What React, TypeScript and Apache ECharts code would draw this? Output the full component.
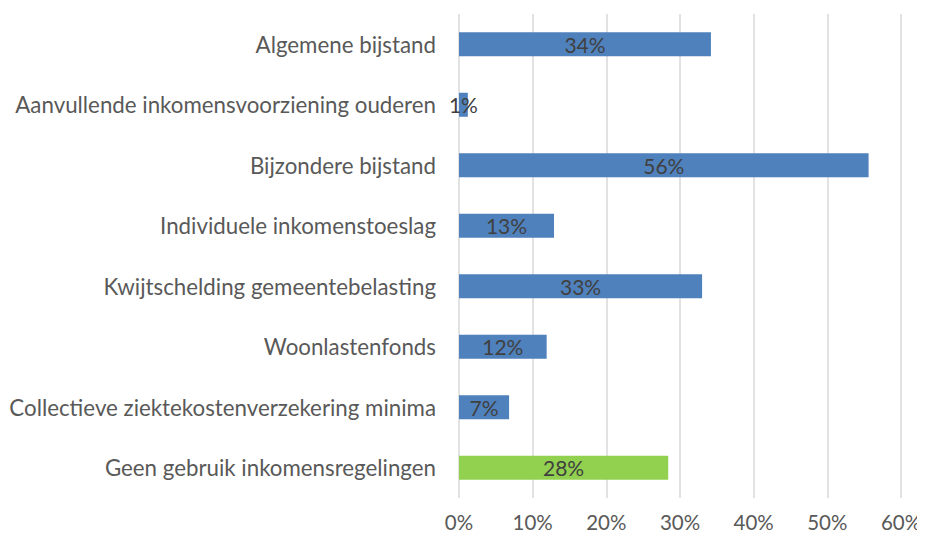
import React, { useEffect, useRef } from "react";
import * as echarts from "echarts";

const categories = [
  "Algemene bijstand",
  "Aanvullende inkomensvoorziening ouderen",
  "Bijzondere bijstand",
  "Individuele inkomenstoeslag",
  "Kwijtschelding gemeentebelasting",
  "Woonlastenfonds",
  "Collectieve ziektekostenverzekering minima",
  "Geen gebruik inkomensregelingen",
];
const values = [34.2, 1.2, 55.6, 12.9, 33.0, 11.9, 6.8, 28.4];
const highlightIndex = 7;
const blue = "#4F81BD";
const green = "#92D050";

export default function App() {
  const ref = useRef<HTMLDivElement>(null);
  useEffect(() => {
    if (!ref.current) return;
    const chart = echarts.init(ref.current, null, { renderer: "svg" });
    chart.setOption({
      animation: false,
      grid: { left: 459, right: 24, top: 14, bottom: 41, containLabel: false },
      xAxis: {
        type: "value",
        min: 0,
        max: 60,
        interval: 10,
        axisLine: { show: false },
        axisTick: { show: false },
        splitLine: { show: true, lineStyle: { color: "#D9D9D9", width: 1.5 } },
        axisLabel: {
          formatter: "{value}%",
          color: "#595959",
          fontFamily: "Lato",
          fontSize: 20.5,
          margin: 13,
        },
      },
      yAxis: {
        type: "category",
        data: categories,
        inverse: true,
        axisLine: { show: false },
        axisTick: { show: false },
        axisLabel: {
          color: "#595959",
          fontFamily: "Lato",
          fontSize: 22.3,
          margin: 23,
        },
      },
      series: [
        {
          type: "bar",
          barWidth: 24,
          data: values.map((v, i) => ({
            value: v,
            itemStyle: { color: i === highlightIndex ? green : blue },
          })),
          label: {
            show: true,
            position: "inside",
            formatter: (p: any) => Math.round(p.value) + "%",
            color: "#404040",
            fontFamily: "Lato",
            fontSize: 21,
          },
        },
      ],
    });
    return () => chart.dispose();
  }, []);
  return <div ref={ref} style={{ width: 925, height: 539, margin: -8 }} />;
}
